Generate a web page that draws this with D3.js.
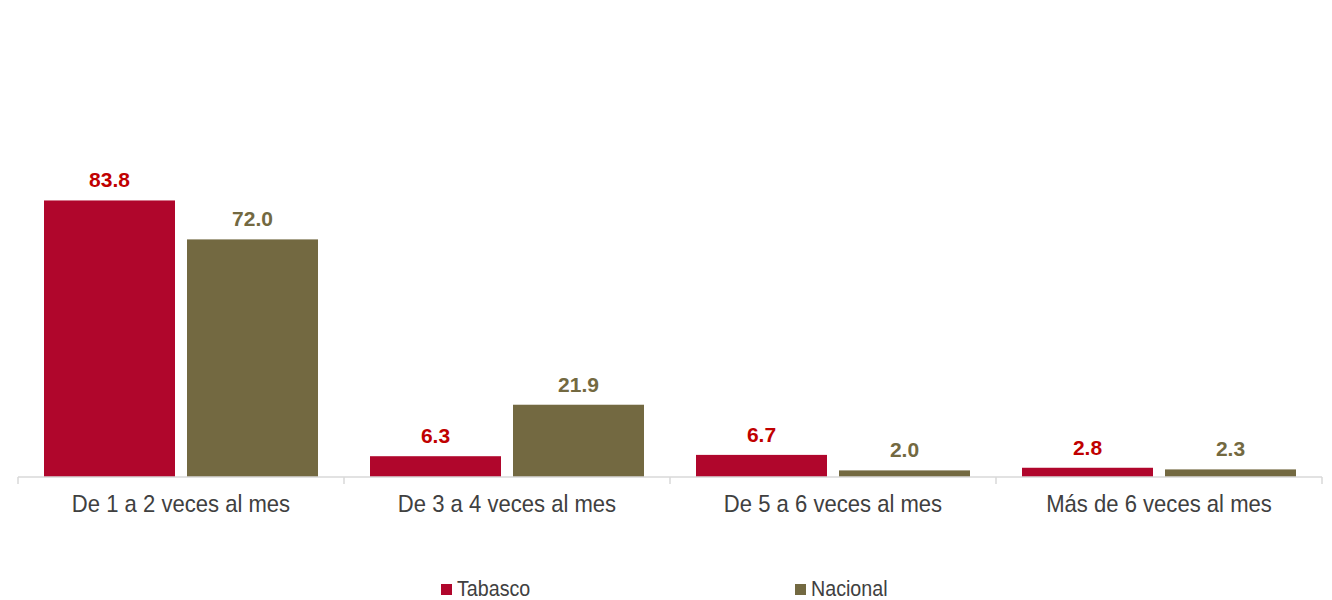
<!DOCTYPE html>
<html><head><meta charset="utf-8">
<script src="https://cdn.jsdelivr.net/npm/d3@7"></script>
<style>body{margin:0;background:#fff}svg{display:block}</style>
</head><body><svg id="c" width="1332" height="600"></svg>
<script>
const categories = ["De 1 a 2 veces al mes","De 3 a 4 veces al mes","De 5 a 6 veces al mes","Más de 6 veces al mes"];
const seriesNames = ["Tabasco","Nacional"];
const tabasco = [83.8, 6.3, 6.7, 2.8];
const nacional = [72.0, 21.9, 2.0, 2.3];
const barColors = ["#B0062C","#736941"];
const labelColors = ["#C00000","#736941"];

const svg = d3.select("#c");
const font = "'Liberation Sans',Arial,sans-serif";
const x0 = d3.scaleBand().domain(categories).range([18,1322]).paddingInner(0).paddingOuter(0);
const x1 = d3.scaleBand().domain(seriesNames).range([26, 300]).paddingInner(0.084);
const y = d3.scaleLinear().domain([0,100]).range([477,147]);
const series = [tabasco, nacional];

const g = svg.append("g");
categories.forEach((c,i)=>{
  seriesNames.forEach((s,j)=>{
    const v = series[j][i];
    const bx = x0(c)+x1(s);
    g.append("rect").attr("x",bx).attr("y",y(v)).attr("width",x1.bandwidth()).attr("height",y(0)-y(v)).attr("fill",barColors[j]);
    g.append("text").attr("x",bx+x1.bandwidth()/2).attr("y",y(v)-13)
      .attr("text-anchor","middle").attr("font-family",font).attr("font-weight","bold")
      .attr("font-size",21).attr("fill",labelColors[j]).text(v.toFixed(1));
  });
});

const ax = svg.append("g").attr("transform","translate(0,477)")
  .call(d3.axisBottom(x0).tickSize(0).tickPadding(0));
ax.select(".domain").attr("stroke","#D9D9D9").attr("stroke-width",1.5).attr("d","M18,0H1322");
ax.selectAll(".tick text").attr("font-family",font).attr("font-size",24).attr("fill","#404040")
  .attr("dy",null).attr("y",0)
  .attr("transform","translate(0,35) scale(0.92,1)");
// boundary ticks
const bounds = categories.map(c=>x0(c)).concat([x0.range()[1]]);
ax.selectAll(".bt").data(bounds).enter().append("line")
  .attr("x1",d=>d).attr("x2",d=>d).attr("y1",0).attr("y2",7).attr("stroke","#D9D9D9").attr("stroke-width",1.5);

const legendX = [441, 795];
seriesNames.forEach((s,j)=>{
  svg.append("rect").attr("x",legendX[j]).attr("y",584).attr("width",11).attr("height",11).attr("fill",barColors[j]);
  svg.append("text").attr("transform",`translate(${legendX[j]+16},596) scale(0.92,1)`).attr("font-family",font)
    .attr("font-size",21.4).attr("fill","#404040").text(s);
});
</script></body></html>
